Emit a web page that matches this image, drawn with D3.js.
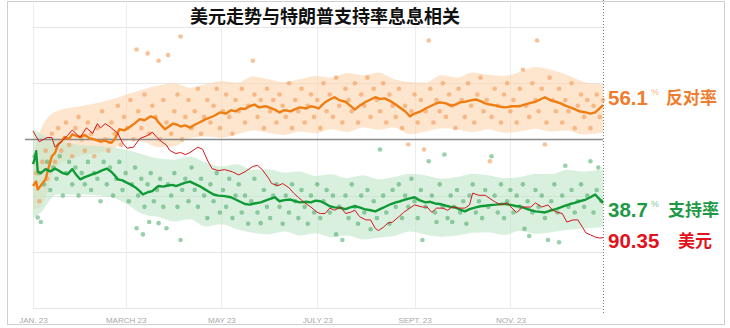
<!DOCTYPE html>
<html>
<head>
<meta charset="utf-8">
<script src="https://cdn.jsdelivr.net/npm/d3@7"></script>
<style>
  html, body { margin: 0; padding: 0; background: #fff; }
  svg { display: block; }
</style>
</head>
<body>
<svg id="chart" width="730" height="328"></svg>
<script>
// ---- data -------------------------------------------------------------
// days are counted from 23 Jan 2017; approval values in percent
const startDate = "2017-01-23";
const endDay = 363;

const tickDates = ["2017-01-23", "2017-03-23", "2017-05-23", "2017-07-23", "2017-09-23", "2017-11-23"];
const tickLabels = ["JAN. 23", "MARCH 23", "MAY 23", "JULY 23", "SEPT. 23", "NOV. 23"];
const gridValues = [20, 30, 40, 50, 60, 70];

// disapproval average [day, %]
const disapproveLine = [[0,41.7],[2,42.5],[3,41.1],[5,41.8],[8,42.9],[10,45.0],[12,47.0],[14,47.6],[16,49.1],[18,49.6],[20,50.4],[23,50.1],[25,50.9],[28,50.6],[30,50.4],[33,50.8],[36,50.2],[40,49.9],[43,49.6],[46,49.8],[48,49.5],[50,49.4],[52,50.0],[55,51.8],[58,51.6],[62,52.3],[65,52.9],[68,53.6],[71,53.4],[75,54.1],[78,53.8],[80,53.0],[82,52.4],[84,51.8],[87,52.4],[89,52.8],[92,52.6],[94,52.3],[97,52.5],[100,52.1],[103,52.6],[106,53.0],[110,53.6],[113,53.9],[116,54.3],[119,54.8],[123,54.6],[126,55.2],[129,55.0],[132,55.5],[135,55.4],[138,55.9],[141,56.2],[144,55.7],[148,55.9],[151,55.6],[154,55.3],[157,54.8],[160,55.2],[164,55.0],[167,55.4],[170,55.7],[174,55.5],[177,55.9],[180,55.7],[182,55.5],[184,56.1],[186,56.6],[189,57.1],[192,57.5],[195,57.0],[199,56.7],[202,56.0],[205,55.3],[208,56.0],[212,56.7],[215,57.1],[218,57.5],[221,57.2],[224,57.3],[227,56.9],[231,56.2],[234,55.6],[237,55.0],[240,54.1],[243,54.6],[247,55.0],[250,55.5],[253,55.9],[256,56.3],[259,56.6],[263,56.4],[266,56.0],[269,56.2],[272,56.6],[275,56.7],[278,56.9],[282,57.1],[285,56.8],[288,56.4],[291,56.2],[295,56.0],[298,55.8],[301,55.7],[305,55.9],[310,55.9],[313,56.2],[317,56.5],[320,56.7],[323,57.1],[326,57.5],[328,57.2],[330,56.9],[333,56.7],[336,56.4],[339,56.0],[342,55.7],[345,55.4],[348,55.0],[352,54.8],[355,54.6],[358,54.8],[360,55.3],[363,56.1]];

// approval average [day, %]
const approveLine = [[0,45.6],[1,46.5],[2,47.9],[3,44.3],[5,44.0],[8,44.7],[11,44.3],[14,44.8],[16,44.5],[19,44.0],[22,43.8],[25,44.7],[27,43.9],[30,42.9],[33,43.3],[36,43.6],[38,43.8],[41,44.1],[44,44.5],[47,44.8],[50,44.2],[52,43.6],[54,42.9],[57,42.7],[59,42.4],[62,42.0],[65,41.5],[68,40.8],[70,40.2],[73,40.6],[76,40.8],[78,41.3],[80,41.7],[83,41.6],[86,41.8],[89,41.9],[91,41.7],[94,42.0],[97,42.3],[100,42.5],[103,42.1],[106,41.7],[109,41.2],[112,40.7],[115,40.2],[118,40.0],[122,39.9],[126,39.7],[129,39.3],[132,38.9],[135,38.5],[138,38.4],[141,38.6],[145,38.8],[148,39.1],[151,39.4],[154,39.7],[157,39.0],[160,39.2],[164,39.3],[167,39.0],[170,38.8],[174,38.9],[177,38.8],[180,39.1],[183,39.0],[186,38.6],[189,38.1],[192,37.9],[196,37.8],[199,37.6],[202,37.9],[205,38.1],[208,37.9],[211,37.6],[215,37.4],[218,37.2],[221,37.6],[225,38.1],[228,38.5],[231,38.8],[234,39.0],[237,39.3],[240,39.5],[243,39.7],[246,39.2],[250,38.8],[253,38.9],[256,38.6],[259,38.5],[263,38.2],[266,38.0],[269,37.9],[272,37.5],[275,37.2],[278,37.6],[282,37.9],[285,38.1],[288,38.2],[291,38.3],[295,38.4],[298,38.5],[301,38.5],[305,38.3],[308,38.1],[310,38.1],[314,37.7],[317,37.4],[320,37.2],[323,37.1],[326,37.0],[329,37.3],[333,37.6],[336,37.9],[339,38.2],[342,38.5],[345,38.7],[348,39.0],[352,39.3],[355,39.7],[358,40.2],[360,39.6],[363,38.7]];

// US dollar index [day, index]
const dollarLine = [[0,100.3],[4,99.3],[9,99.7],[12,99.7],[14,98.8],[18,99.3],[22,99.9],[25,100.4],[30,99.7],[34,100.6],[38,100.1],[41,101.0],[43,100.6],[46,101.0],[49,100.7],[54,100.1],[57,99.2],[60,98.7],[64,98.8],[68,99.6],[73,99.9],[76,100.2],[79,99.7],[82,99.3],[85,99.0],[87,98.5],[91,98.2],[94,98.3],[97,98.1],[100,98.3],[105,98.8],[108,98.6],[111,97.6],[114,96.8],[118,96.6],[122,96.7],[127,96.5],[131,96.2],[135,96.5],[140,97.0],[143,97.1],[146,96.7],[150,95.9],[152,95.4],[156,95.2],[159,95.4],[163,95.0],[166,94.5],[169,94.1],[173,93.6],[177,93.2],[181,92.7],[183,92.6],[186,92.6],[189,93.1],[192,92.9],[196,93.2],[199,92.6],[202,92.7],[205,92.9],[208,92.3],[212,92.0],[215,92.0],[218,91.2],[220,91.0],[223,91.3],[226,91.7],[229,91.8],[233,92.3],[236,92.7],[240,93.1],[243,93.4],[248,93.2],[251,93.2],[254,92.7],[257,93.1],[261,93.1],[264,92.9],[267,93.2],[271,93.1],[275,93.1],[278,93.4],[280,94.5],[284,94.3],[288,94.3],[291,94.0],[294,93.7],[298,93.4],[302,93.6],[305,93.1],[308,92.7],[312,93.2],[317,93.2],[320,93.6],[324,93.2],[328,93.4],[331,92.9],[334,92.7],[337,92.6],[340,91.8],[344,92.0],[347,92.0],[350,91.3],[352,90.8],[355,90.6],[358,90.4],[361,90.3],[363,90.35]];

// uncertainty ranges [day, low %, high %]
const disapproveBand = [[0,37.5,47],[5,38,51.8],[15,45.2,55],[30,47,55.9],[50,48.2,57.1],[62,49.8,58.2],[70,49.6,58.9],[80,48.6,59.6],[90,48.8,60],[100,50.2,59.2],[110,50.5,59.8],[120,50.3,60.4],[130,50.9,60.1],[140,51.6,61.2],[150,51.2,60.7],[160,50.8,60.2],[170,51.4,60.7],[180,51.1,61.3],[190,51.8,61],[200,51.3,61.8],[210,52.1,61.4],[220,51.7,61.9],[230,52.1,60.7],[240,50.9,60.2],[250,51.4,60.1],[260,52.0,61.4],[270,51.8,61],[280,51.3,61.9],[290,51.8,61.5],[300,51.2,61.3],[310,51.4,62],[320,51.9,62.9],[330,51.4,62.4],[340,51.6,61.5],[350,50.9,60.3],[363,51.2,59.8]];
const approveBand = [[0,36,52],[5,37,51],[15,40.2,50],[30,40.2,49],[50,39.7,48.6],[60,38.4,48.1],[70,36.7,47.3],[80,36.2,46.6],[90,35.4,46.4],[100,35.8,46.9],[110,34.5,45.9],[120,34.9,45.2],[130,34,45.6],[140,33.4,44.6],[150,33.1,44.7],[160,33.6,44.1],[170,32.9,44.3],[180,33.3,43.5],[190,32.6,43.8],[200,32.9,43.1],[210,32.2,43.6],[220,32.5,42.9],[230,32.8,43.3],[240,33.6,43.9],[250,33.1,43.6],[260,32.7,43.0],[270,32.9,43.3],[280,33.4,43.9],[290,33.5,43.6],[300,33.0,43.1],[310,33.7,43.3],[320,33.2,43.9],[330,33.5,43.8],[340,33.9,44.6],[350,34.1,44.3],[363,34.4,44.7]];

// individual polls [day, %]
const disapprovePolls = [[2,44],[4,39],[6,46],[8,48],[9,43],[12,51],[14,46],[16,52],[18,48],[21,53],[23,49],[25,47],[27,52],[29,54],[31,50],[33,48],[35,53],[37,51],[39,47],[41,52],[44,55],[46,50],[48,48],[50,53],[52,51],[54,56],[56,49],[58,54],[60,52],[62,57],[64,50],[66,66],[67,55],[69,52],[71,58],[73,65.3],[74,51],[76,56],[78,54],[80,64],[81,50],[83,57],[85,53],[86,65],[88,51],[90,55],[92,58],[94,68.3],[95,50],[97,54],[99,57],[101,52],[103,55],[105,59],[107,51],[109,54],[111,57],[113,53],[115,56],[117,59],[119,52],[121,55],[123,58],[125,54],[127,51],[129,57],[131,55],[133,59],[135,53],[137,56],[140,64],[141,58],[143,54],[145,57],[147,52],[149,59],[151,55],[153,57],[155,53],[157,58],[159,56],[161,54],[163,60],[165,52],[167,57],[169,55],[171,59],[173,53],[175,56],[177,58],[179,54],[181,57],[183,52],[185,60],[187,55],[189,58],[191,54],[193,61],[195,56],[197,53],[199,59],[201,57],[203,55],[205,60],[207,53],[209,58],[211,56],[213,61],[215,54],[217,59],[219,57],[221,55],[223,60],[225,53],[227,58],[229,56],[231,54],[233,59],[235,52],[237,56],[239,49.1],[241,55],[243,58],[245,53],[247,57],[249,48.2],[250,55],[252,67.6],[253,59],[255,53],[257,57],[259,55],[261,60],[263,54],[265,58],[267,56],[269,52],[271,59],[273,57],[275,54],[277,60],[279,56],[281,53],[283,58],[285,61],[287,55],[289,57],[291,46.1],[292,54],[294,59],[296,56],[298,53],[300,58],[302,60],[304,55],[306,57],[308,53],[310,59],[312,62.4],[314,56],[316,54],[318,60],[320,57],[321,67.6],[322,55],[324,59],[326,49.1],[327,53],[329,61],[331,57],[333,55],[335,59],[337,53],[339,57],[341,55],[343,60],[345,52],[347,56],[349,58],[351,54],[353,57],[355,52],[357,56],[359,58],[361,54],[363,57]];
const approvePolls = [[1,47],[3,36.1],[4,44],[5,35.3],[7,42],[9,46],[11,41],[13,45],[15,43],[17,47],[19,40],[21,44],[23,46],[25,42],[27,45],[29,40],[31,44],[33,42],[35,46],[37,41],[39,44],[41,43],[43,39],[45,46],[47,42],[49,45],[51,40],[53,43],[55,46],[57,41],[59,44],[61,39],[63,42],[65,45],[66,34.2],[67,40],[69,43],[70,33.1],[71,38],[73,42],[74,35.3],[75,44],[77,39],[79,41],[80,35.1],[81,43],[83,38],[85,34.2],[86,42],[88,40],[90,44],[92,38],[94,32.1],[95,41],[97,43],[99,39],[101,45],[103,41],[105,38],[107,43],[109,40],[111,36],[113,42],[115,39],[117,44],[119,37],[121,41],[123,38],[125,43],[127,36],[129,40],[131,42],[133,37],[135,40],[137,35],[139,39],[141,43],[143,37],[145,35.1],[147,41],[149,38],[151,36],[153,40],[155,42],[157,38],[159,35],[161,40],[163,37],[165,42],[167,39],[169,36],[171,41],[173,38],[175,35],[177,40],[179,37],[181,42],[183,36],[185,39],[187,41],[189,37],[191,40],[193,33.1],[195,38],[197,32.1],[199,40],[201,36],[203,42],[205,38],[207,35],[209,40],[211,37],[213,41],[215,34],[217,39],[219,36],[221,48.2],[223,40],[225,37],[227,35],[229,41],[231,38],[233,42],[235,36],[237,40],[239,38],[241,43],[243,39],[245,36],[247,41],[248,32.1],[250,38],[252,46.1],[254,40],[256,37],[257,35.3],[259,42],[261,38],[262,47.3],[264,36],[266,40],[267,35.3],[268,38],[270,41],[272,37],[274,39],[276,35],[278,40],[280,42],[282,37],[284,39],[286,36],[288,41],[290,38],[292,47],[294,40],[296,37],[298,42],[300,36],[302,39],[304,41],[306,37],[308,40],[310,38],[312,42],[313,34.1],[315,39],[316,32.8],[318,37],[320,41],[322,38],[324,40],[326,36],[328,32.1],[330,39],[332,42],[334,37],[335,31.7],[337,40],[339,45.3],[341,38],[343,41],[345,37],[347,39],[349,42],[351,38],[353,40],[355,46.1],[357,37],[359,41],[360,45],[362,39]];

const labels = [
  { value: "56.1", pct: true,  name: "反对率", color: "#ef7d2f", y: 105, nameX: 666 },
  { value: "38.7", pct: true,  name: "支持率", color: "#1e9945", y: 217, nameX: 668 },
  { value: "90.35", pct: false, name: "美元",  color: "#e2121c", y: 248, nameX: 678 }
];

// ---- scales -----------------------------------------------------------
const parse = d3.timeParse("%Y-%m-%d");
const t0 = parse(startDate);
const dayDate = d => d3.timeDay.offset(t0, d);

const x = d3.scaleTime().domain([t0, dayDate(endDay)]).range([33, 603]);
const y = d3.scaleLinear().domain([20, 70]).range([308, 27]);
const yDollar = d3.scaleLinear().domain([90, 100]).range([241.3, 134.3]);

const svg = d3.select("#chart");

// frame
svg.append("rect").attr("x", 7.5).attr("y", 1.5).attr("width", 717).attr("height", 323)
  .attr("fill", "#fff").attr("stroke", "#cfcfcf").attr("stroke-width", 1);

// grid
svg.append("g").selectAll("line").data(tickDates).join("line")
  .attr("x1", d => Math.round(x(parse(d))) + 0.5).attr("x2", d => Math.round(x(parse(d))) + 0.5)
  .attr("y1", 3).attr("y2", 308)
  .attr("stroke", "#ececec").attr("stroke-width", 1);
svg.append("g").selectAll("line").data(gridValues.filter(v => v !== 50)).join("line")
  .attr("x1", 33).attr("x2", 603)
  .attr("y1", d => Math.round(y(d)) + 0.5).attr("y2", d => Math.round(y(d)) + 0.5)
  .attr("stroke", "#e6e6e6").attr("stroke-width", 1);

// title
svg.append("rect").attr("x", 186).attr("y", 4).attr("width", 278).attr("height", 22).attr("fill", "#fff");
svg.append("text").attr("x", 325).attr("y", 23).attr("text-anchor", "middle")
  .attr("font-family", "'Noto Sans CJK SC', sans-serif").attr("font-weight", 700)
  .attr("font-size", 18).attr("fill", "#111").text("美元走势与特朗普支持率息息相关");

// uncertainty bands
const band = d3.area()
  .x(d => x(dayDate(d[0]))).y0(d => y(d[1])).y1(d => y(d[2]))
  .curve(d3.curveMonotoneX);
svg.append("path").datum(disapproveBand).attr("d", band)
  .attr("fill", "#fbd3ad").attr("fill-opacity", 0.6);
svg.append("path").datum(approveBand).attr("d", band)
  .attr("fill", "#bfe6c9").attr("fill-opacity", 0.6);

// polls
svg.append("g").selectAll("circle").data(disapprovePolls).join("circle")
  .attr("cx", d => x(dayDate(d[0]))).attr("cy", d => y(d[1])).attr("r", 2.3)
  .attr("fill", "#f39a55").attr("fill-opacity", 0.6);
svg.append("g").selectAll("circle").data(approvePolls).join("circle")
  .attr("cx", d => x(dayDate(d[0]))).attr("cy", d => y(d[1])).attr("r", 2.3)
  .attr("fill", "#45a862").attr("fill-opacity", 0.55);

// 50% reference line
svg.append("line").attr("x1", 25).attr("x2", 603).attr("y1", y(50)).attr("y2", y(50))
  .attr("stroke", "#8a8a8a").attr("stroke-width", 1.5);

// trend lines
const pctLine = d3.line().x(d => x(dayDate(d[0]))).y(d => y(d[1]));
const dxyLine = d3.line().x(d => x(dayDate(d[0]))).y(d => yDollar(d[1]));
svg.append("path").datum(disapproveLine).attr("d", pctLine)
  .attr("fill", "none").attr("stroke", "#ef7d12").attr("stroke-width", 2.4).attr("stroke-linejoin", "round");
svg.append("path").datum(approveLine).attr("d", pctLine)
  .attr("fill", "none").attr("stroke", "#0f9a35").attr("stroke-width", 2.4).attr("stroke-linejoin", "round");
svg.append("path").datum(dollarLine).attr("d", dxyLine)
  .attr("fill", "none").attr("stroke", "#d4161f").attr("stroke-width", 1).attr("stroke-linejoin", "round");

// end-of-period marker
svg.append("line").attr("x1", 603.5).attr("x2", 603.5).attr("y1", 0).attr("y2", 313)
  .attr("stroke", "#777").attr("stroke-width", 1).attr("stroke-dasharray", "1,2");

// x axis
const xAxis = d3.axisBottom(x)
  .tickValues(tickDates.map(parse))
  .tickFormat((d, i) => tickLabels[i])
  .tickSize(0).tickPadding(4);
const gx = svg.append("g").attr("transform", "translate(0,313)").call(xAxis);
gx.select(".domain").remove();
gx.selectAll("text").attr("font-family", "'Liberation Sans', Arial, sans-serif")
  .attr("font-size", 8).attr("fill", "#a8a8a8");

// end labels
const lab = svg.append("g").selectAll("g").data(labels).join("g");
lab.append("text").attr("x", 608).attr("y", d => d.y)
  .attr("font-family", "'Liberation Sans', Arial, sans-serif").attr("font-weight", 700)
  .attr("font-size", 20.5).attr("fill", d => d.color).text(d => d.value);
lab.filter(d => d.pct).append("text").attr("x", 651).attr("y", d => d.y - 10)
  .attr("font-family", "'Liberation Sans', Arial, sans-serif")
  .attr("font-size", 9).attr("fill", d => d.color).attr("fill-opacity", 0.6).text("%");
lab.append("text").attr("x", d => d.nameX).attr("y", d => d.y - 1)
  .attr("font-family", "'Noto Sans CJK SC', sans-serif").attr("font-weight", 700)
  .attr("font-size", 17).attr("fill", d => d.color).text(d => d.name);
</script>
</body>
</html>
